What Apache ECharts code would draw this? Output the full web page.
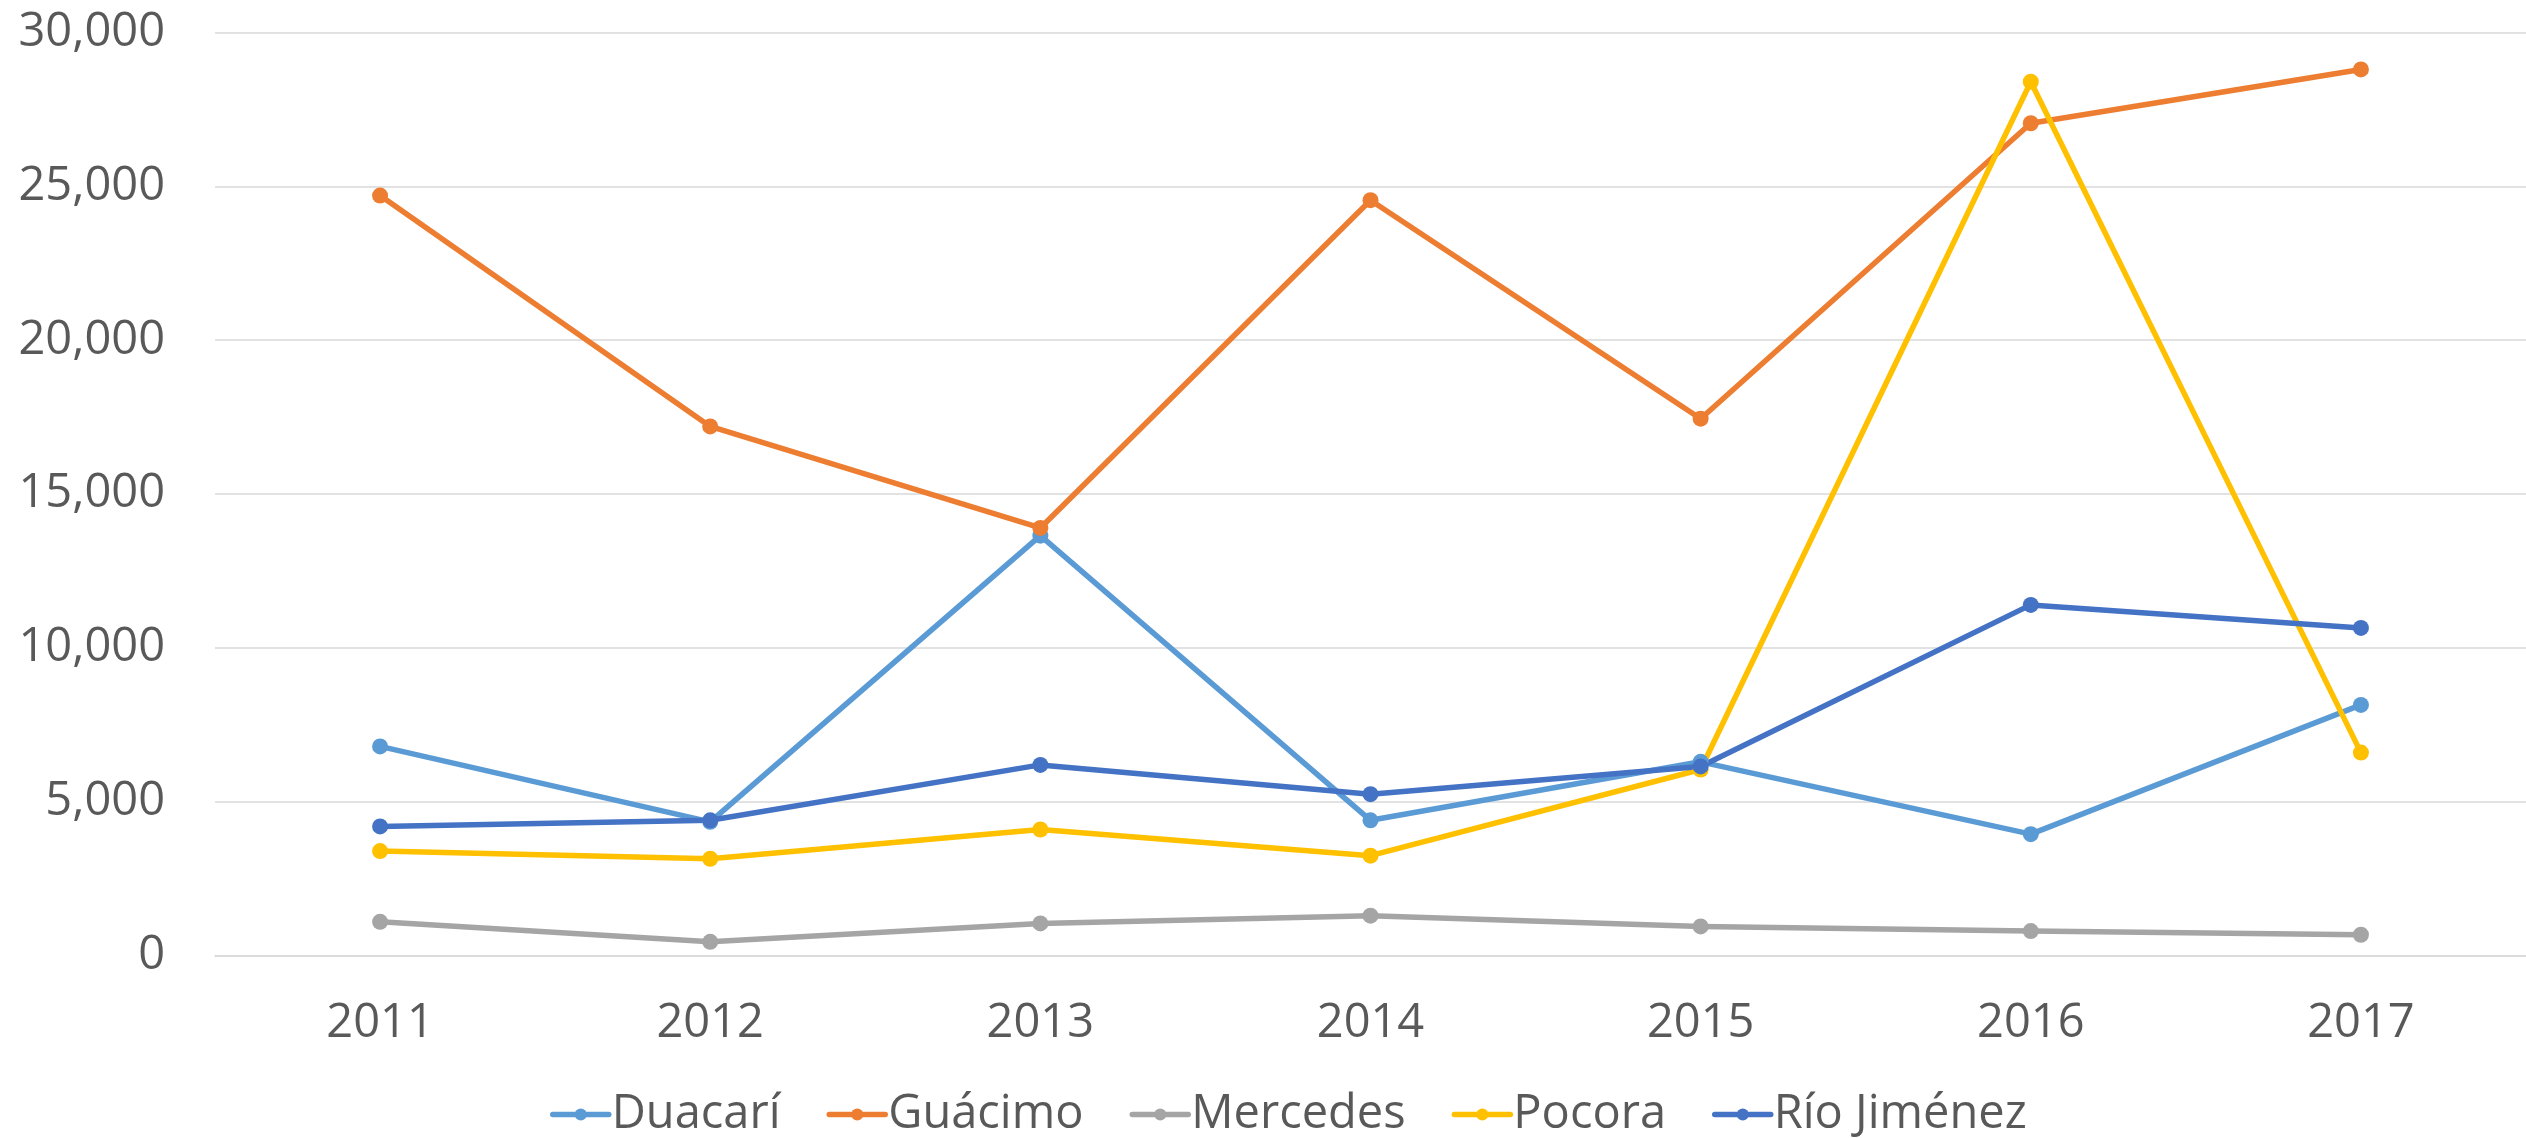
<!DOCTYPE html>
<html>
<head>
<meta charset="utf-8">
<title>Cantones – serie 2011-2017</title>
<script src="https://cdn.jsdelivr.net/npm/echarts@6/dist/echarts.min.js"></script>
<style>
  html, body { margin: 0; padding: 0; background: #ffffff; }
  #chart { width: 2526px; height: 1138px; }
</style>
</head>
<body>
<div id="chart"></div>
<script>
// Years on the category axis
const years = ['2011', '2012', '2013', '2014', '2015', '2016', '2017'];

// Values per district
const duacari     = [6800, 4350, 13650, 4400, 6300, 3950, 8150];
const guacimo     = [24700, 17200, 13900, 24550, 17450, 27050, 28800];
const mercedes    = [1100, 450, 1050, 1300, 950, 800, 680];
const pocora      = [3400, 3150, 4100, 3250, 6050, 28400, 6600];
const rioJimenez  = [4200, 4400, 6200, 5250, 6150, 11400, 10650];

// Value axis ticks
const yTicks = [0, 5000, 10000, 15000, 20000, 25000, 30000];

const seriesDefs = [
  { name: 'Duacarí',     data: duacari,    color: '#5B9BD5' },
  { name: 'Guácimo',     data: guacimo,    color: '#ED7D31' },
  { name: 'Mercedes',    data: mercedes,   color: '#A5A5A5' },
  { name: 'Pocora',      data: pocora,     color: '#FFC000' },
  { name: 'Río Jiménez', data: rioJimenez, color: '#4472C4' }
];

const textColor = '#595959';
const fontFamily = '"Open Sans", "Noto Sans", sans-serif';
const fmt = v => String(v).replace(/\B(?=(\d{3})+(?!\d))/g, ',');

const chart = echarts.init(document.getElementById('chart'), null, { renderer: 'canvas' });

chart.setOption({
  backgroundColor: '#ffffff',
  animation: false,
  textStyle: { fontFamily: fontFamily, color: textColor },
  grid: { left: 215, right: 0, top: 32.5, bottom: 182.3, containLabel: false },
  legend: {
    data: seriesDefs.map(s => s.name),
    left: 545,
    top: 1086,
    itemWidth: 56,
    itemHeight: 15,
    itemGap: 46,
    lineStyle: { width: 5.5 },
    textStyle: { fontSize: 47, color: textColor, fontFamily: fontFamily, padding: [0, 0, 0, -2] }
  },
  xAxis: {
    type: 'category',
    data: years,
    boundaryGap: true,
    axisLine: { show: true, lineStyle: { color: '#D9D9D9', width: 1.5 } },
    axisTick: { show: false },
    axisLabel: { fontSize: 47, color: textColor, margin: 44, fontFamily: fontFamily },
    splitLine: { show: false }
  },
  yAxis: {
    type: 'value',
    min: yTicks[0],
    max: yTicks[yTicks.length - 1],
    interval: yTicks[1] - yTicks[0],
    axisLine: { show: false },
    axisTick: { show: false },
    axisLabel: { fontSize: 47, color: textColor, margin: 50, fontFamily: fontFamily, formatter: fmt },
    splitLine: { show: true, lineStyle: { color: '#D9D9D9', width: 1.5 } }
  },
  series: seriesDefs.map(s => ({
    name: s.name,
    type: 'line',
    data: s.data,
    symbol: 'circle',
    symbolSize: 16,
    showSymbol: true,
    color: s.color,
    lineStyle: { color: s.color, width: 5.5, cap: 'round', join: 'round' },
    itemStyle: { color: s.color, borderWidth: 0 }
  }))
});
</script>
</body>
</html>
